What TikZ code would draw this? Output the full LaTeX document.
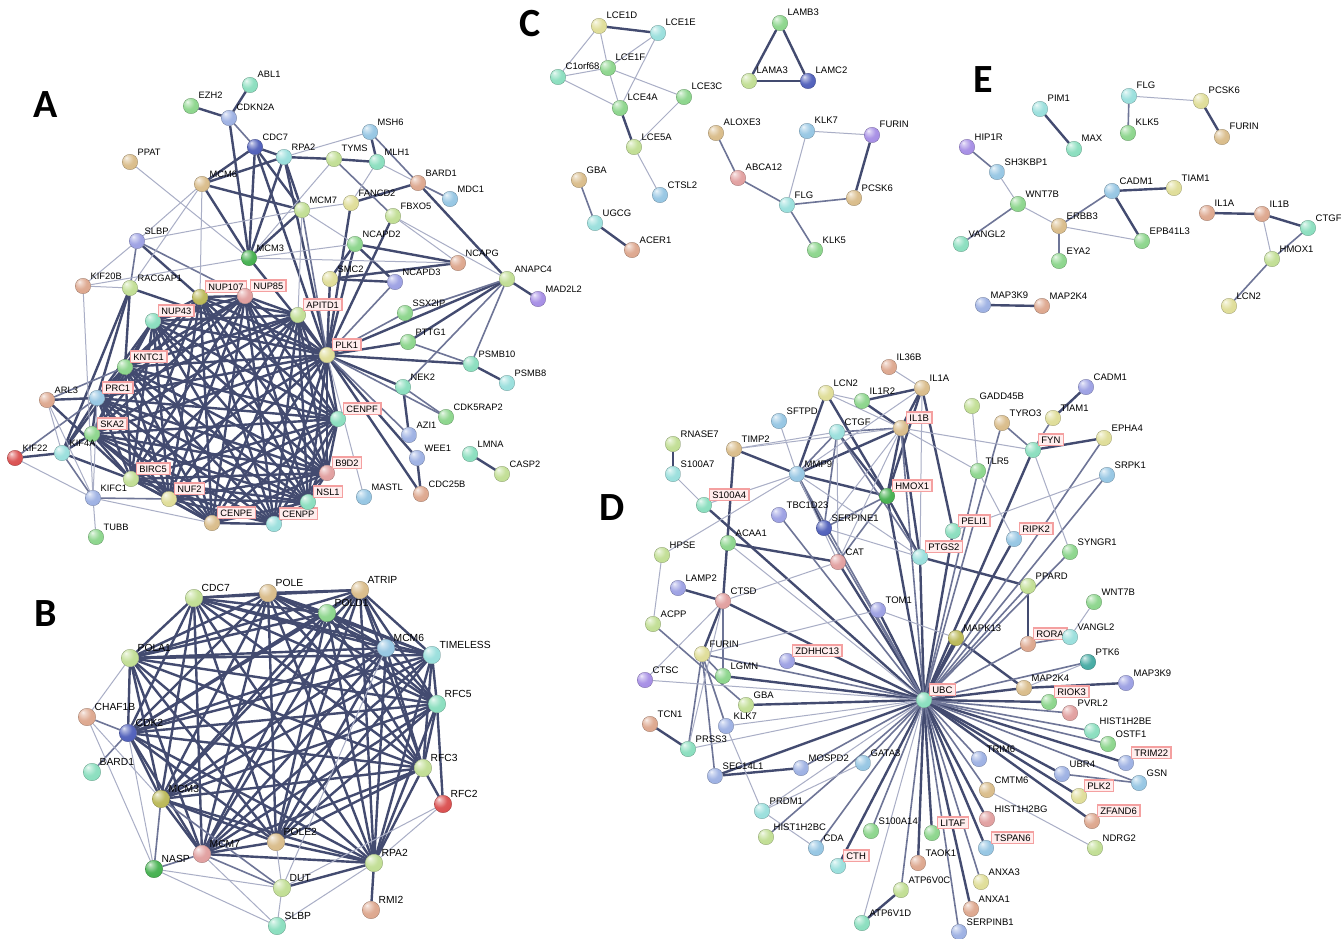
\documentclass[tikz,border=0pt]{standalone}
\usepackage{fontspec}
\setmainfont{Liberation Sans}
\newfontfamily\letterfont{Carlito}
\usetikzlibrary{backgrounds}
\makeatletter
\pgfdeclareradialshading[tikz@ball]{sball}{\pgfpoint{-12bp}{14bp}}{%
 color(0bp)=(tikz@ball!15!white); color(6bp)=(tikz@ball!45!white); color(20bp)=(tikz@ball!92!white);
 color(40bp)=(tikz@ball); color(56bp)=(tikz@ball!70!black); color(70bp)=(tikz@ball!70!black)}
\makeatother
\definecolor{colD}{HTML}{434B70}
\definecolor{colM}{HTML}{6E7597}
\definecolor{colL}{HTML}{A9AEC6}
\definecolor{gr}{HTML}{88D488}
\definecolor{yg}{HTML}{BFDD90}
\definecolor{tl}{HTML}{86DDBC}
\definecolor{cy}{HTML}{96DEDB}
\definecolor{lb}{HTML}{92C4E2}
\definecolor{bl}{HTML}{9AAEE2}
\definecolor{db}{HTML}{4A5AB8}
\definecolor{pu}{HTML}{A38AE4}
\definecolor{bp}{HTML}{999DE2}
\definecolor{tn}{HTML}{D8BA86}
\definecolor{sa}{HTML}{DCA48A}
\definecolor{pk}{HTML}{E09C9C}
\definecolor{rd}{HTML}{D94A4A}
\definecolor{ye}{HTML}{DEDC94}
\definecolor{dg}{HTML}{3FAE4A}
\definecolor{ol}{HTML}{B8B652}
\definecolor{dt}{HTML}{3FA8A0}
\definecolor{boxred}{HTML}{F4A0A0}
\definecolor{boxfill}{HTML}{FFEDED}
\def\ballsize{15.5pt}
\def\labsize{9.5}
\tikzset{
  gb/.style={circle, minimum size=\ballsize, inner sep=0pt, ball color=#1, shading=sball, draw=#1!65!black, line width=0.25pt},
  lab/.style={anchor=base west, inner sep=0pt, font=\fontsize{\labsize}{\labsize}\selectfont, text=black},
  boxed/.style={draw=boxred, line width=1.7pt, fill=boxfill, inner xsep=3pt, inner ysep=2.4pt},
  eT/.style={draw=colD, line width=2.4pt},
  eM/.style={draw=colM, line width=1.6pt},
  eL/.style={draw=colL, line width=1pt},
  letter/.style={font=\letterfont\bfseries\fontsize{40}{40}\selectfont, inner sep=0pt}
}
\newcommand{\gn}[5]{\node[gb=#4] (#1) at (#2,#3) {};\node[lab] (#1l) at (#2+7.5,#3-7) {#5};}
\newcommand{\gnb}[5]{\node[gb=#4] (#1) at (#2,#3) {};\node[lab,boxed] (#1l) at (#2+4.5,#3-7) {#5};}
\newcommand{\edges}[2]{\foreach \u/\v in {#2} {\draw[#1] (\u) -- (\v);}}
\newcommand{\clique}[2]{\foreach \u [count=\i] in {#2} {\foreach \v [count=\j] in {#2} {\ifnum\j>\i \draw[#1] (\u) -- (\v);\fi}}}
\begin{document}
\begin{tikzpicture}[x=1pt,y=-1pt]
\useasboundingbox (0,0) rectangle (1341,939);
% letters
\node[letter] (LA) at (46,105) {A};
\node[letter] (LB) at (46,614) {B};
\node[letter] (LC) at (530,24) {C};
\node[letter] (LD) at (612,508) {D};
\node[letter] (LE) at (983,80) {E};
% ---------------- Panel A
\begin{scope}
\def\labsize{9.3}
\gn{aABL1}{250}{85}{tl}{ABL1}
\gn{aEZH2}{191}{106}{gr}{EZH2}
\gn{aCDKN2A}{229}{118}{bl}{CDKN2A}
\gn{aCDC7}{255}{147}{db}{CDC7}
\gn{aPPAT}{130}{162}{tn}{PPAT}
\gn{aMCM6}{202}{184}{tn}{MCM6}
\gn{aSLBP}{137}{241}{bp}{SLBP}
\gn{aMCM3}{249}{258}{dg}{MCM3}
\gn{aKIF20B}{83}{286}{sa}{KIF20B}
\gn{aRACGAP1}{130}{288}{yg}{RACGAP1}
\gn{aMSH6}{370}{132}{lb}{MSH6}
\gn{aRPA2}{284}{157}{cy}{RPA2}
\gn{aTYMS}{334}{159}{yg}{TYMS}
\gn{aMLH1}{377}{162}{tl}{MLH1}
\gn{aBARD1}{418}{183}{sa}{BARD1}
\gn{aMDC1}{450}{199}{lb}{MDC1}
\gn{aFANCD2}{351}{203}{ye}{FANCD2}
\gn{aMCM7}{302}{210}{yg}{MCM7}
\gn{aFBXO5}{393}{216}{yg}{FBXO5}
\gn{aNCAPD2}{355}{244}{gr}{NCAPD2}
\gn{aNCAPG}{458}{263}{sa}{NCAPG}
\gn{aSMC2}{330}{279}{ye}{SMC2}
\gn{aNCAPD3}{395}{282}{bp}{NCAPD3}
\gn{aANAPC4}{507}{279}{yg}{ANAPC4}
\gn{aMAD2L2}{538}{299}{pu}{MAD2L2}
\gnb{aNUP107}{200}{297}{ol}{NUP107}
\gnb{aNUP85}{245}{296}{pk}{NUP85}
\gnb{aAPITD1}{298}{315}{yg}{APITD1}
\gnb{aNUP43}{153}{321}{tl}{NUP43}
\gn{aSSX2IP}{405}{313}{gr}{SSX2IP}
\gn{aPTTG1}{408}{342}{gr}{PTTG1}
\gnb{aPLK1}{327}{355}{ye}{PLK1}
\gnb{aKNTC1}{125}{367}{gr}{KNTC1}
\gn{aARL3}{47}{400}{sa}{ARL3}
\gnb{aPRC1}{97}{398}{lb}{PRC1}
\gnb{aSKA2}{92}{434}{gr}{SKA2}
\gn{aKIF22}{15}{458}{rd}{KIF22}
\gn{aKIF4A}{62}{453}{cy}{KIF4A}
\gnb{aBIRC5}{131}{479}{yg}{BIRC5}
\gn{aKIFC1}{93}{498}{bl}{KIFC1}
\gnb{aNUF2}{169}{499}{ye}{NUF2}
\gnb{aCENPE}{212}{523}{tn}{CENPE}
\gnb{aCENPP}{274}{524}{cy}{CENPP}
\gn{aTUBB}{96}{537}{gr}{TUBB}
\gn{aPSMB10}{471}{364}{tl}{PSMB10}
\gn{aPSMB8}{507}{383}{cy}{PSMB8}
\gn{aNEK2}{403}{387}{tl}{NEK2}
\gn{aCDK5RAP2}{446}{417}{gr}{CDK5RAP2}
\gnb{aCENPF}{338}{419}{tl}{CENPF}
\gn{aAZI1}{409}{435}{bl}{AZI1}
\gn{aWEE1}{417}{458}{bl}{WEE1}
\gn{aLMNA}{470}{454}{tl}{LMNA}
\gn{aCASP2}{502}{474}{yg}{CASP2}
\gnb{aB9D2}{327}{473}{pk}{B9D2}
\gnb{aNSL1}{308}{502}{tl}{NSL1}
\gn{aMASTL}{364}{497}{lb}{MASTL}
\gn{aCDC25B}{421}{494}{sa}{CDC25B}
\end{scope}
% ---------------- Panel B
\begin{scope}
\def\labsize{10.3}
\def\ballsize{17.5pt}
\gn{bCDC7}{194}{598}{yg}{CDC7}
\gn{bPOLE}{268}{593}{tn}{POLE}
\gn{bATRIP}{360}{590}{tn}{ATRIP}
\gn{bPOLD1}{327}{613}{gr}{POLD1}
\gn{bPOLA1}{130}{658}{yg}{POLA1}
\gn{bMCM6}{386}{648}{lb}{MCM6}
\gn{bTIMELESS}{432}{655}{cy}{TIMELESS}
\gn{bRFC5}{437}{704}{tl}{RFC5}
\gn{bCHAF1B}{87}{717}{sa}{CHAF1B}
\gn{bCDK2}{128}{733}{db}{CDK2}
\gn{bBARD1}{92}{772}{tl}{BARD1}
\gn{bRFC3}{423}{768}{yg}{RFC3}
\gn{bMCM3}{161}{799}{ol}{MCM3}
\gn{bRFC2}{443}{804}{rd}{RFC2}
\gn{bPOLE2}{276}{842}{tn}{POLE2}
\gn{bMCM7}{202}{854}{pk}{MCM7}
\gn{bRPA2}{374}{863}{yg}{RPA2}
\gn{bNASP}{154}{869}{dg}{NASP}
\gn{bDUT}{282}{888}{yg}{DUT}
\gn{bRMI2}{371}{910}{sa}{RMI2}
\gn{bSLBP}{277}{926}{tl}{SLBP}
\end{scope}
% ---------------- Panel C
\gn{cLCE1D}{599}{26}{ye}{LCE1D}
\gn{cLCE1E}{658}{33}{cy}{LCE1E}
\gn{cLCE1F}{608}{68}{gr}{LCE1F}
\gn{cC1orf68}{558}{77}{tl}{C1orf68}
\gn{cLCE3C}{684}{97}{gr}{LCE3C}
\gn{cLCE4A}{620}{108}{gr}{LCE4A}
\gn{cLCE5A}{634}{147}{yg}{LCE5A}
\gn{cGBA}{579}{180}{tn}{GBA}
\gn{cCTSL2}{660}{195}{lb}{CTSL2}
\gn{cUGCG}{595}{223}{cy}{UGCG}
\gn{cACER1}{632}{250}{sa}{ACER1}
\gn{cLAMB3}{780}{23}{gr}{LAMB3}
\gn{cLAMA3}{749}{81}{yg}{LAMA3}
\gn{cLAMC2}{808}{81}{db}{LAMC2}
\gn{cALOXE3}{716}{133}{tn}{ALOXE3}
\gn{cKLK7}{807}{131}{lb}{KLK7}
\gn{cFURIN}{872}{135}{pu}{FURIN}
\gn{cABCA12}{738}{178}{pk}{ABCA12}
\gn{cFLG}{787}{205}{cy}{FLG}
\gn{cPCSK6}{854}{198}{tn}{PCSK6}
\gn{cKLK5}{815}{250}{gr}{KLK5}
% ---------------- Panel E
\gn{ePIM1}{1040}{109}{cy}{PIM1}
\gn{eMAX}{1074}{149}{tl}{MAX}
\gn{eFLG}{1129}{96}{cy}{FLG}
\gn{eKLK5}{1128}{133}{gr}{KLK5}
\gn{ePCSK6}{1201}{101}{ye}{PCSK6}
\gn{eFURIN}{1222}{137}{tn}{FURIN}
\gn{eHIP1R}{967}{147}{pu}{HIP1R}
\gn{eSH3KBP1}{997}{172}{lb}{SH3KBP1}
\gn{eWNT7B}{1018}{204}{gr}{WNT7B}
\gn{eCADM1}{1112}{191}{lb}{CADM1}
\gn{eTIAM1}{1174}{188}{ye}{TIAM1}
\gn{eERBB3}{1059}{226}{tn}{ERBB3}
\gn{eVANGL2}{961}{244}{tl}{VANGL2}
\gn{eEPB41L3}{1142}{241}{gr}{EPB41L3}
\gn{eEYA2}{1059}{261}{gr}{EYA2}
\gn{eIL1A}{1207}{213}{sa}{IL1A}
\gn{eIL1B}{1262}{214}{sa}{IL1B}
\gn{eCTGF}{1308}{228}{tl}{CTGF}
\gn{eHMOX1}{1272}{259}{yg}{HMOX1}
\gn{eLCN2}{1229}{306}{ye}{LCN2}
\gn{eMAP3K9}{983}{305}{bl}{MAP3K9}
\gn{eMAP2K4}{1042}{306}{sa}{MAP2K4}
% ---------------- Panel D
\gn{dIL36B}{889}{367}{sa}{IL36B}
\gn{dIL1A}{922}{388}{tn}{IL1A}
\gn{dLCN2}{826}{393}{ye}{LCN2}
\gn{dIL1R2}{862}{401}{gr}{IL1R2}
\gn{dCADM1}{1086}{387}{bp}{CADM1}
\gn{dGADD45B}{972}{406}{yg}{GADD45B}
\gn{dTIAM1}{1053}{418}{ye}{TIAM1}
\gn{dTYRO3}{1002}{423}{tn}{TYRO3}
\gnb{dIL1B}{901}{428}{tn}{IL1B}
\gn{dSFTPD}{779}{421}{lb}{SFTPD}
\gn{dCTGF}{837}{432}{cy}{CTGF}
\gn{dEPHA4}{1104}{438}{ye}{EPHA4}
\gn{dRNASE7}{673}{444}{yg}{RNASE7}
\gnb{dFYN}{1033}{450}{tl}{FYN}
\gn{dTIMP2}{734}{449}{tn}{TIMP2}
\gn{dS100A7}{673}{474}{cy}{S100A7}
\gn{dMMP9}{797}{474}{lb}{MMP9}
\gn{dTLR5}{978}{471}{gr}{TLR5}
\gn{dSRPK1}{1107}{475}{lb}{SRPK1}
\gnb{dHMOX1}{887}{496}{dg}{HMOX1}
\gnb{dS100A4}{704}{505}{tl}{S100A4}
\gn{dTBC1D23}{779}{515}{bp}{TBC1D23}
\gn{dSERPINE1}{824}{528}{db}{SERPINE1}
\gnb{dPELI1}{953}{531}{tl}{PELI1}
\gnb{dRIPK2}{1014}{539}{lb}{RIPK2}
\gn{dACAA1}{728}{543}{gr}{ACAA1}
\gn{dHPSE}{662}{555}{yg}{HPSE}
\gn{dSYNGR1}{1070}{552}{gr}{SYNGR1}
\gnb{dPTGS2}{920}{557}{cy}{PTGS2}
\gn{dCAT}{838}{562}{pk}{CAT}
\gn{dPPARD}{1028}{586}{yg}{PPARD}
\gn{dLAMP2}{678}{588}{bp}{LAMP2}
\gn{dWNT7B}{1094}{602}{gr}{WNT7B}
\gn{dCTSD}{723}{601}{pk}{CTSD}
\gn{dTOM1}{878}{610}{bp}{TOM1}
\gn{dACPP}{653}{624}{yg}{ACPP}
\gn{dMAPK13}{956}{638}{ol}{MAPK13}
\gnb{dRORA}{1028}{644}{sa}{RORA}
\gn{dVANGL2}{1070}{637}{cy}{VANGL2}
\gn{dFURIN}{702}{654}{ye}{FURIN}
\gnb{dZDHHC13}{787}{661}{bp}{ZDHHC13}
\gn{dPTK6}{1088}{662}{dt}{PTK6}
\gn{dCTSC}{645}{680}{pu}{CTSC}
\gn{dLGMN}{723}{676}{gr}{LGMN}
\gn{dMAP2K4}{1024}{688}{tn}{MAP2K4}
\gnb{dUBC}{924}{700}{tl}{UBC}
\gn{dGBA}{746}{705}{yg}{GBA}
\gnb{dRIOK3}{1049}{702}{gr}{RIOK3}
\gn{dPVRL2}{1070}{713}{pk}{PVRL2}
\gn{dMAP3K9}{1126}{683}{bp}{MAP3K9}
\gn{dTCN1}{650}{724}{sa}{TCN1}
\gn{dKLK7}{726}{726}{bl}{KLK7}
\gn{dPRSS3}{688}{749}{tl}{PRSS3}
\gn{dSEC14L1}{715}{776}{bl}{SEC14L1}
\gn{dMOSPD2}{801}{768}{bl}{MOSPD2}
\gn{dGATA3}{863}{763}{lb}{GATA3}
\gn{dPRDM1}{762}{811}{cy}{PRDM1}
\gn{dHIST1H2BC}{766}{837}{yg}{HIST1H2BC}
\gn{dS100A14}{871}{831}{gr}{S100A14}
\gn{dCDA}{816}{848}{lb}{CDA}
\gnb{dLITAF}{932}{833}{gr}{LITAF}
\gnb{dCTH}{838}{866}{cy}{CTH}
\gn{dTAOK1}{918}{863}{sa}{TAOK1}
\gn{dATP6V0C}{901}{890}{yg}{ATP6V0C}
\gn{dATP6V1D}{862}{923}{tl}{ATP6V1D}
\gn{dHIST1H2BE}{1092}{731}{tl}{HIST1H2BE}
\gn{dOSTF1}{1108}{744}{gr}{OSTF1}
\gnb{dTRIM22}{1126}{763}{bl}{TRIM22}
\gn{dTRIM6}{979}{759}{bl}{TRIM6}
\gn{dUBR4}{1062}{774}{bl}{UBR4}
\gn{dGSN}{1139}{783}{lb}{GSN}
\gn{dCMTM6}{987}{790}{tn}{CMTM6}
\gnb{dPLK2}{1079}{796}{ye}{PLK2}
\gn{dHIST1H2BG}{987}{819}{pk}{HIST1H2BG}
\gnb{dZFAND6}{1092}{821}{sa}{ZFAND6}
\gnb{dTSPAN6}{986}{848}{lb}{TSPAN6}
\gn{dNDRG2}{1095}{848}{yg}{NDRG2}
\gn{dANXA3}{981}{882}{ye}{ANXA3}
\gn{dANXA1}{971}{909}{sa}{ANXA1}
\gn{dSERPINB1}{959}{932}{bl}{SERPINB1}
% ================= edges
\begin{pgfonlayer}{background}
\fill[white] (0,0) rectangle (1341,939);
% ---- A
\clique{eT}{aNUP107,aNUP85,aNUP43,aAPITD1,aPLK1,aKNTC1,aPRC1,aSKA2,aBIRC5,aNUF2,aCENPE,aCENPP,aNSL1,aB9D2,aCENPF}
\edges{eT}{aABL1/aCDKN2A,aEZH2/aCDKN2A,aCDKN2A/aMCM3,aCDC7/aMCM6,aCDC7/aMCM3,aCDC7/aMCM7,aCDC7/aRPA2,aCDC7/aPLK1,
aRPA2/aTYMS,aRPA2/aMCM7,aRPA2/aMCM3,aRPA2/aMCM6,aTYMS/aMLH1,aMSH6/aMLH1,aBARD1/aFANCD2,aBARD1/aANAPC4,
aMCM7/aMCM3,aMCM6/aMCM3,aMCM6/aMCM7,aFBXO5/aPLK1,aNCAPD2/aNCAPG,aNCAPD2/aNCAPD3,aNCAPD2/aSMC2,aNCAPG/aSMC2,
aSMC2/aNCAPD3,aSMC2/aPLK1,aANAPC4/aMAD2L2,aANAPC4/aPLK1,aANAPC4/aPTTG1,aPLK1/aPTTG1,aPLK1/aPSMB10,aPLK1/aNEK2,
aPLK1/aWEE1,aPLK1/aCDC25B,aPSMB10/aPSMB8,aNEK2/aAZI1,aWEE1/aCDC25B,aLMNA/aCASP2,aSLBP/aNUP107,aRACGAP1/aPRC1,
aRACGAP1/aKIF4A,aKIF22/aKIF4A,aKIF4A/aPRC1,aKIF4A/aBIRC5,aKIF4A/aSKA2,aARL3/aPRC1,aARL3/aBIRC5,aMCM3/aPLK1,
aFANCD2/aPLK1,aRPA2/aPLK1,aNCAPD2/aPLK1,aRACGAP1/aPLK1,aKIF4A/aKNTC1,aRACGAP1/aKNTC1}
\edges{eM}{aMSH6/aBARD1,aCDKN2A/aCDC7,aTYMS/aFBXO5,aPLK1/aCDK5RAP2,aPLK1/aSSX2IP,aNEK2/aCDK5RAP2,aANAPC4/aPSMB10,
aANAPC4/aNEK2,aANAPC4/aSSX2IP,aBARD1/aMDC1,aPTTG1/aPSMB10,aPLK1/aAZI1,aNCAPD3/aPLK1,aSLBP/aNUP85,aSLBP/aRACGAP1,
aARL3/aKNTC1,aKIFC1/aNUF2,aKIF4A/aKIFC1,aKIF22/aPRC1,aMCM7/aPLK1}
\edges{eL}{aRPA2/aMSH6,aMLH1/aBARD1,aMLH1/aFANCD2,aFANCD2/aMCM7,aFBXO5/aANAPC4,aMCM7/aNCAPD2,aMCM7/aAPITD1,
aMCM6/aSLBP,aMCM6/aRACGAP1,aPPAT/aMCM3,aSLBP/aMCM7,aSLBP/aKIF20B,aKIF20B/aRACGAP1,aKIF20B/aKIFC1,aKIF20B/aMCM3,
aNCAPD2/aMCM3,aNCAPG/aFBXO5,aPLK1/aMASTL,aARL3/aKIF4A,aARL3/aKIFC1,aKIF22/aKIFC1,aKIFC1/aTUBB,aKIFC1/aCENPE,
aTYMS/aMCM3,aMCM6/aNUP107,aNCAPG/aMCM3,aKIFC1/aPRC1}
% ---- B
\clique{eT}{bCDC7,bPOLE,bATRIP,bPOLD1,bPOLA1,bMCM6,bTIMELESS,bRFC5,bCDK2,bRFC3,bMCM3,bPOLE2,bMCM7,bRPA2}
\edges{eT}{bRMI2/bRPA2,bRFC2/bRFC3,bRFC2/bRFC5,bDUT/bRPA2}
\edges{eM}{bCHAF1B/bCDK2,bBARD1/bCDK2,bNASP/bMCM3,bNASP/bMCM7,bMCM7/bDUT,bMCM3/bDUT}
\edges{eL}{bCHAF1B/bPOLA1,bCHAF1B/bNASP,bCHAF1B/bMCM3,bCDK2/bNASP,bNASP/bDUT,bNASP/bSLBP,bMCM7/bSLBP,bDUT/bSLBP,
bSLBP/bRPA2,bRFC2/bRPA2,bRFC2/bDUT,bDUT/bPOLE2,bDUT/bMCM6}
% ---- C
\edges{eT}{cLCE1D/cLCE1E,cLCE4A/cLCE5A,cUGCG/cACER1,cFURIN/cPCSK6,cLAMB3/cLAMA3,cLAMB3/cLAMC2,cLAMA3/cLAMC2}
\edges{eM}{cGBA/cUGCG,cALOXE3/cABCA12,cABCA12/cFLG,cFLG/cKLK5,cFLG/cPCSK6}
\edges{eL}{cLCE1D/cC1orf68,cLCE1D/cLCE1F,cLCE1E/cLCE1F,cLCE1E/cLCE4A,cC1orf68/cLCE1F,cC1orf68/cLCE4A,cLCE1F/cLCE4A,
cLCE1F/cLCE3C,cLCE3C/cLCE5A,cLCE5A/cCTSL2,cFLG/cKLK7,cKLK7/cFURIN}
% ---- E
\edges{eT}{ePIM1/eMAX,ePCSK6/eFURIN,eCADM1/eTIAM1,eCADM1/eEPB41L3,eIL1A/eIL1B,eIL1B/eCTGF,eMAP3K9/eMAP2K4}
\edges{eM}{eFLG/eKLK5,eHIP1R/eSH3KBP1,eWNT7B/eVANGL2,eERBB3/eCADM1,eERBB3/eEYA2,eCTGF/eHMOX1,eHMOX1/eLCN2}
\edges{eL}{eFLG/ePCSK6,eSH3KBP1/eWNT7B,eWNT7B/eERBB3,eERBB3/eEPB41L3,eIL1B/eHMOX1}
% ---- D
\edges{eT}{dUBC/dTOM1,dUBC/dCAT,dUBC/dHMOX1,dUBC/dPTGS2,dUBC/dPELI1,dUBC/dRIPK2,dUBC/dFYN,dUBC/dMAPK13,dUBC/dMAP2K4,
dUBC/dRIOK3,dUBC/dTRIM22,dUBC/dUBR4,dUBC/dZFAND6,dUBC/dHIST1H2BG,dUBC/dTSPAN6,dUBC/dLITAF,dUBC/dANXA1,dUBC/dCTH,
dUBC/dSEC14L1,dUBC/dGBA,dUBC/dLGMN,dUBC/dZDHHC13,dUBC/dCTSD,dUBC/dPLK2,dUBC/dTAOK1,
dIL1A/dIL1R2,dIL1A/dIL1B,dIL1R2/dIL1B,dIL1A/dHMOX1,dIL1A/dPELI1,dIL1B/dHMOX1,dIL1B/dPTGS2,dIL1B/dMMP9,dLCN2/dMMP9,
dLCN2/dHMOX1,dCTGF/dHMOX1,dTIMP2/dMMP9,dTIMP2/dCTSD,dMMP9/dHMOX1,dMMP9/dSERPINE1,dHMOX1/dPTGS2,dRNASE7/dS100A7,
dLAMP2/dCTSD,dCTSD/dFURIN,dTCN1/dPRSS3,dSEC14L1/dMOSPD2,dATP6V0C/dATP6V1D,dPPARD/dRORA,dPPARD/dPTGS2,
dMAPK13/dMAP2K4,dMAP2K4/dMAP3K9,dCADM1/dTIAM1,dFYN/dEPHA4,dACAA1/dCAT,dS100A4/dUBC}
\edges{eM}{dUBC/dPPARD,dUBC/dRORA,dUBC/dPVRL2,dUBC/dHIST1H2BE,dUBC/dOSTF1,dUBC/dGSN,dUBC/dCMTM6,dUBC/dANXA3,
dUBC/dSERPINB1,dUBC/dATP6V0C,dUBC/dS100A14,dUBC/dCDA,dUBC/dGATA3,dUBC/dMOSPD2,dUBC/dFURIN,dUBC/dSERPINE1,
dUBC/dTBC1D23,dUBC/dSYNGR1,dUBC/dSRPK1,dUBC/dEPHA4,dUBC/dTYRO3,dUBC/dTLR5,dUBC/dPTK6,dUBC/dHIST1H2BC,dUBC/dIL1B,
dUBC/dMMP9,dUBC/dTRIM6,
dIL1B/dCTGF,dCTGF/dSERPINE1,dCTGF/dMMP9,dHMOX1/dCAT,dHMOX1/dSERPINE1,dCTSD/dLGMN,dFURIN/dLGMN,dFURIN/dPRSS3,
dFURIN/dSEC14L1,dFURIN/dKLK7,dACPP/dGBA,dRORA/dVANGL2,dTIAM1/dFYN,dTYRO3/dFYN,dUBR4/dGSN,dCTGF/dPTGS2}
\edges{eL}{dUBC/dATP6V1D,dUBC/dPRSS3,dUBC/dKLK7,dUBC/dCTSC,dUBC/dPRDM1,dUBC/dACAA1,
dIL36B/dIL1A,dLCN2/dIL1R2,dLCN2/dIL1B,dIL1A/dMMP9,dIL1B/dTIMP2,dIL1B/dFYN,dIL1B/dTLR5,dIL1B/dSERPINE1,dIL1B/dCAT,
dCTGF/dTIMP2,dCTGF/dCAT,dSFTPD/dMMP9,dS100A7/dS100A4,dMMP9/dS100A4,dMMP9/dHPSE,dMMP9/dPTGS2,dMMP9/dCAT,
dHPSE/dACPP,dSERPINE1/dPTGS2,dCTSD/dCAT,dCTSD/dPRSS3,dCTSC/dCTSD,dFURIN/dTOM1,dKLK7/dPRDM1,dPRDM1/dGATA3,
dPRDM1/dCDA,dVANGL2/dWNT7B,dGADD45B/dTLR5,dTLR5/dRIPK2,dPELI1/dSRPK1,dFYN/dSYNGR1,dCMTM6/dNDRG2,dTOM1/dMAPK13,
dMAP2K4/dPTK6,dIL1A/dPTGS2}
\end{pgfonlayer}
\end{tikzpicture}
\end{document}
